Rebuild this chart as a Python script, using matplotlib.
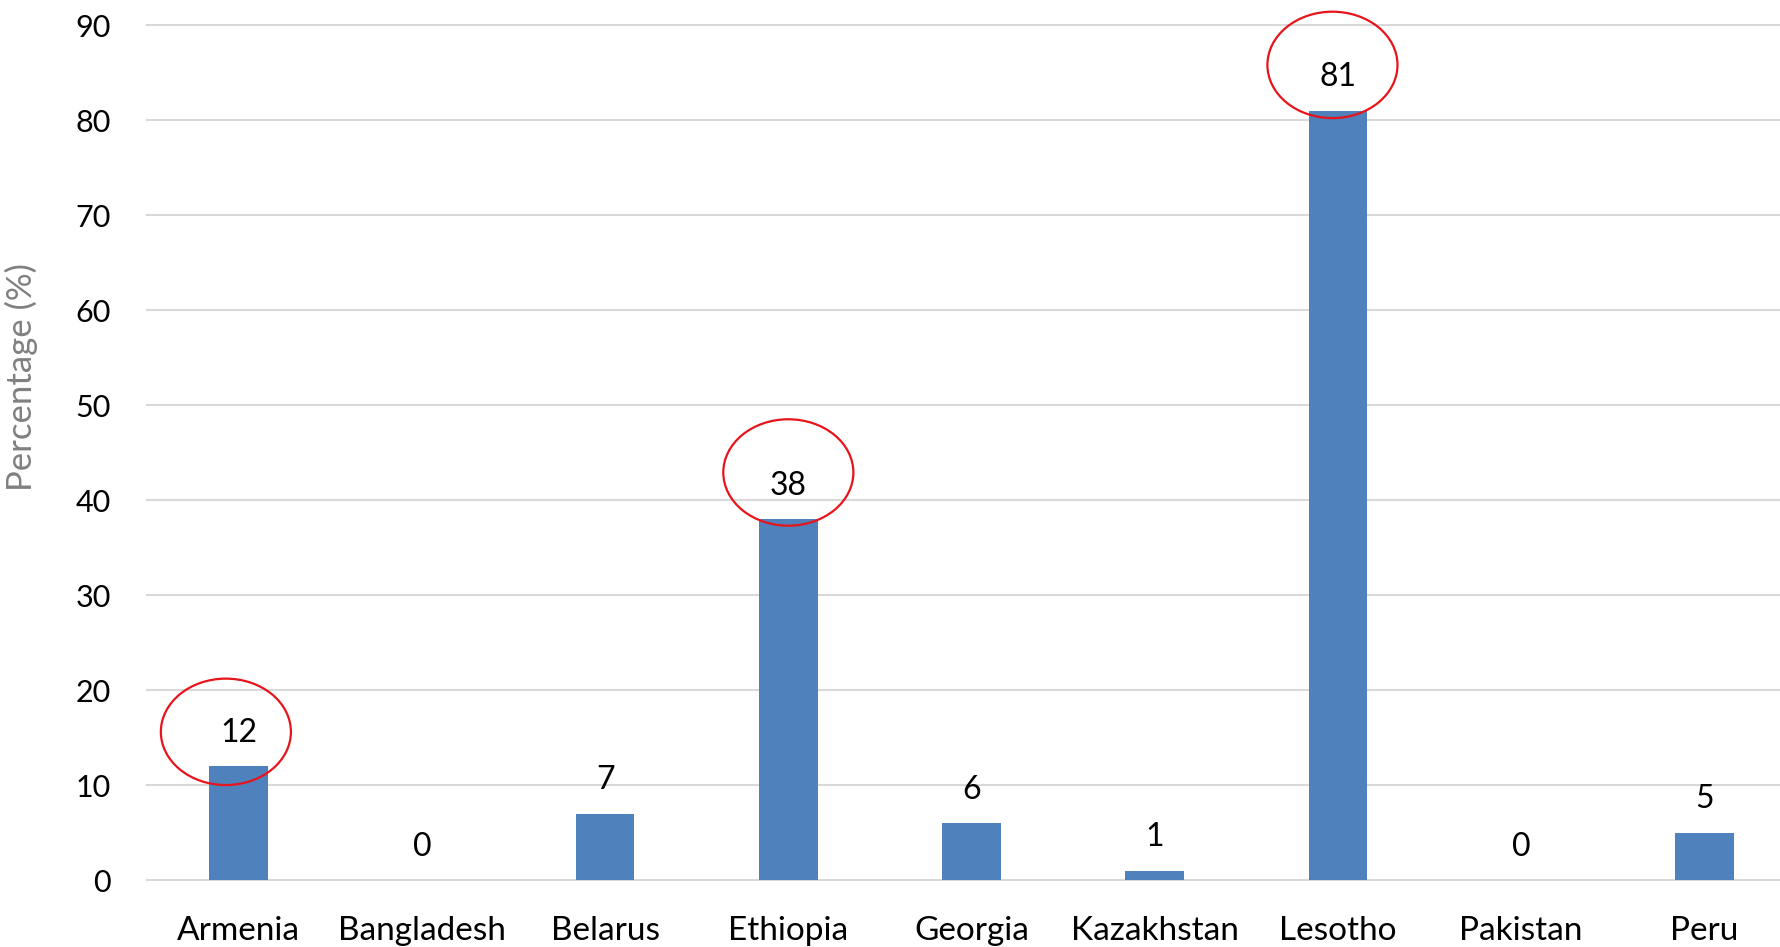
import numpy as np
import matplotlib
matplotlib.use("Agg")
import matplotlib.pyplot as plt
import matplotlib.patches as pt

plt.rcParams['font.family'] = ['Lato', 'DejaVu Sans']

paises = ["Armenia", "Bangladesh", "Belarus", "Ethiopia", "Georgia",
          "Kazakhstan", "Lesotho", "Pakistan", "Peru"]
porcentajes = [12, 0, 7, 38, 6, 1, 81, 0, 5]
resaltados = ["Armenia", "Ethiopia", "Lesotho"]
# desplazamiento (x, y) de cada circulo respecto a la punta de la barra
desplaz = [(-0.07, 3.6), (0.0, 4.9), (-0.03, 4.8)]
yticks = [0, 10, 20, 30, 40, 50, 60, 70, 80, 90]

fig = plt.figure(figsize=(17.81, 9.47), dpi=100)
ax = fig.add_axes([0.0826, 0.0707, 0.9258, 0.9029])

x = np.arange(len(paises))
ax.bar(x, porcentajes, width=0.32, color="#4F81BD", zorder=3)

# etiquetas de valor encima de cada barra
for i, v in enumerate(porcentajes):
    ax.annotate(str(v), (x[i], v), xytext=(0, 24), textcoords="offset points",
                ha="center", va="center", fontsize=23, color="black", zorder=5)

# circulos rojos sobre los paises destacados
for nombre, (dx, dy) in zip(resaltados, desplaz):
    i = paises.index(nombre)
    v = porcentajes[i]
    e = pt.Ellipse((x[i] + dx, v + dy), 0.71, 11.2, fill=False,
                   edgecolor="#E8141B", linewidth=1.6, zorder=6, clip_on=False)
    ax.add_patch(e)

ax.set_xlim(-0.5, len(paises) - 0.5)
ax.set_ylim(0, 90)
ax.set_yticks(yticks)
ax.set_xticks(x)
ax.set_xticklabels(paises)
ax.tick_params(axis="y", length=0, labelsize=22, pad=26)
ax.tick_params(axis="x", length=0, labelsize=24, pad=26)
ax.yaxis.grid(True, color="#D9D9D9", linewidth=1.5, zorder=0)
ax.set_axisbelow(True)
for s in ax.spines.values():
    s.set_visible(False)
for gl in ax.get_ygridlines():
    gl.set_clip_on(False)

ax.set_ylabel("Percentage (%)", fontsize=25, color="#808080")
ax.yaxis.set_label_coords(-0.066, 0.588)

fig.savefig("out.png", dpi=100)
